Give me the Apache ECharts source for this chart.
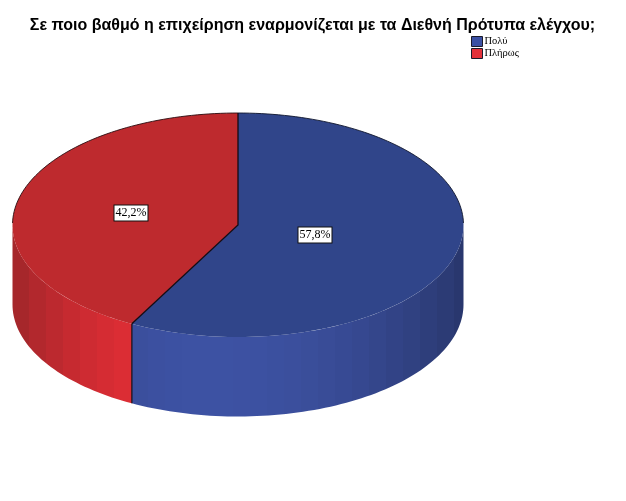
<!DOCTYPE html>
<html><head><meta charset="utf-8">
<style>html,body{margin:0;padding:0;background:#fff}#c{width:626px;height:501px}</style>
<script src="https://cdn.jsdelivr.net/npm/echarts@6/dist/echarts.min.js"></script>
</head><body><div id="c"></div>
<script>
const titleText = 'Σε ποιο βαθμό η επιχείρηση εναρμονίζεται με τα Διεθνή Πρότυπα ελέγχου;';
const categories = ['Πολύ', 'Πλήρως'];
const values = [57.8, 42.2];

const CX = 238, CY = 225, RX = 225.5, RY = 112, DEPTH = 79.5;
const topColors = ['#30458A', '#BE2A2E'];
const legendColors = ['#3B50A3', '#E3313A'];
const wallBright = [[61, 82, 163], [232, 46, 54]];
const wallDark = [[41, 55, 110], [160, 38, 42]];
const labelAt = [[315, 235], [131, 213]];
const total = values.reduce((a, b) => a + b, 0);
const rad = d => d * Math.PI / 180;
const topPt = (a, dy) => [CX + RX * Math.sin(rad(a)), CY - RY * Math.cos(rad(a)) + (dy || 0)];

function arcPts(a0, a1, dy) {
  const out = [], n = Math.max(2, Math.ceil(Math.abs(a1 - a0) / 1.5));
  for (let i = 0; i <= n; i++) out.push(topPt(a0 + (a1 - a0) * i / n, dy));
  return out;
}
function wallShadeAt(i, x) {
  const peak = 205, span = x < peak ? peak - (CX - RX) : (CX + RX) - peak;
  const t = Math.max(0, 1 - Math.pow(Math.abs(x - peak) / span, 2));
  const c = wallBright[i].map((b, k) => Math.round(wallDark[i][k] + (b - wallDark[i][k]) * t));
  return `rgb(${c[0]},${c[1]},${c[2]})`;
}
// stepped horizontal gradient: gives the soft vertical banding of the wall
function wallFill(i) {
  const x0 = CX - RX, x1 = CX + RX, band = 17, stops = [];
  for (let x = x0; x < x1; x += band) {
    const col = wallShadeAt(i, x + band / 2);
    stops.push({ offset: (x - x0) / (x1 - x0), color: col });
    stops.push({ offset: Math.min(1, (x + band - x0) / (x1 - x0)), color: col });
  }
  return new echarts.graphic.LinearGradient(x0, 0, x1, 0, stops, true);
}
function startAngle(i) {
  let s = 0;
  for (let k = 0; k < i; k++) s += values[k];
  return s / total * 360;
}
function renderSlice(i) {
  const a0 = startAngle(i), a1 = a0 + values[i] / total * 360;
  const kids = [];
  const w0 = Math.max(a0, 90), w1 = Math.min(a1, 270);
  kids.push({ type: 'polygon', shape: { points: arcPts(w0, w1, 0).concat(arcPts(w1, w0, DEPTH)) }, style: { fill: wallFill(i) } });
  const facePts = [[CX, CY]].concat(arcPts(a0, a1, 0));
  kids.push({ type: 'polygon', shape: { points: facePts }, style: { fill: topColors[i] } });
  // back rim outline
  if (i === 1) kids.push({ type: 'polyline', shape: { points: arcPts(271, 360, 0) }, style: { fill: null, stroke: '#2a0c10', lineWidth: 0.9 } });
  if (i === 0) kids.push({ type: 'polyline', shape: { points: arcPts(0, 89, 0) }, style: { fill: null, stroke: '#10162e', lineWidth: 0.9 } });
  if (i === 1) {
    const s = topPt(a0, 0);
    kids.push({ type: 'polyline', shape: { points: [s, [CX, CY], topPt(a1, 0)] }, style: { fill: null, stroke: '#140c14', lineWidth: 1.3 } });
    kids.push({ type: 'line', shape: { x1: s[0], y1: s[1], x2: s[0], y2: s[1] + DEPTH }, style: { stroke: '#140c14', lineWidth: 1.2 } });
  }
  kids.push({
    type: 'text', z2: 100,
    x: labelAt[i][0], y: labelAt[i][1],
    style: {
      text: values[i].toFixed(1).replace('.', ',') + '%',
      fontFamily: 'Liberation Serif', fontSize: 12, fill: '#000',
      align: 'center', verticalAlign: 'middle',
      backgroundColor: '#fff', borderColor: '#111', borderWidth: 1,
      padding: [2, 1, 1, 1]
    }
  });
  return { type: 'group', children: kids };
}

const chart = echarts.init(document.getElementById('c'), null, { renderer: 'canvas' });
chart.setOption({
  animation: false,
  backgroundColor: '#fff',
  title: {
    text: titleText, left: 307.5, top: 13, textAlign: 'center',
    textStyle: { fontFamily: 'Liberation Sans', fontSize: 16, fontWeight: 'bold', color: '#000' }
  },
  legend: {
    left: 466, top: 31, orient: 'vertical', itemWidth: 11, itemHeight: 10, itemGap: 1,
    selectedMode: false, icon: 'rect',
    textStyle: { fontFamily: 'Liberation Serif', fontSize: 10.5, color: '#000', padding: [0, 0, 0, -3] },
    data: categories.map((n, i) => ({ name: n, itemStyle: { color: legendColors[i], borderColor: '#1a1a2a', borderWidth: 1 } }))
  },
  series: categories.map((n, i) => ({
    type: 'custom', name: n, coordinateSystem: 'none', silent: true,
    itemStyle: { color: legendColors[i] },
    data: [values[i]],
    z: i === 0 ? 2 : 3,
    renderItem: () => renderSlice(i)
  }))
});
</script></body></html>
